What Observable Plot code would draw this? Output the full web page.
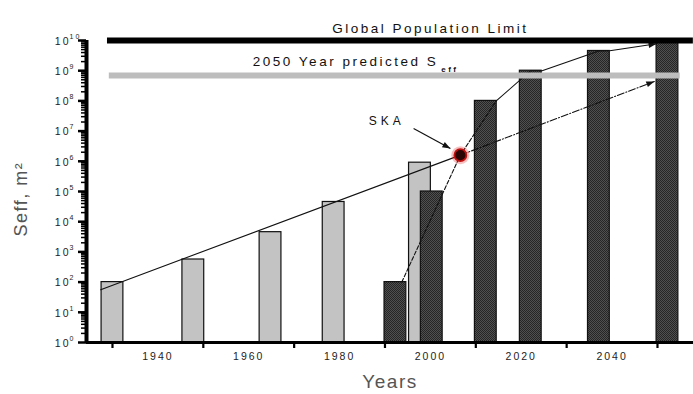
<!DOCTYPE html>
<html>
<head>
<meta charset="utf-8">
<script src="https://cdn.jsdelivr.net/npm/d3@7"></script>
<script src="https://cdn.jsdelivr.net/npm/@observablehq/plot@0.6"></script>
<style>
  body { margin: 0; background: #fff; }
  #chart svg text { letter-spacing: 2px; }
</style>
</head>
<body>
<div id="chart"></div>
<script>
// Effective collecting area Seff (m²) of radio telescopes against year, log scale.

// Existing instruments (light bars)
const pastYears = [1930, 1947.8, 1964.8, 1978.7, 1997.7];
const pastSeff  = [100, 560, 4500, 45000, 9e5];

// Arrays and the SKA era (dark bars)
const futureYears = [1992.3, 2000.3, 2012.2, 2022.1, 2037.1, 2052.2];
const futureSeff  = [100, 1e5, 1e8, 1e9, 4.5e9, 9e9];

// Long-term exponential growth line, through the SKA point and on to 2050
const growthYears = [1927.4, 2006.6, 2049.3];
const growthSeff  = [56, 1.6e6, 4.4e8];

// Accelerated growth line running over the tops of the array bars
const rapidYears = [1993.7, 2006.6, 2014.5, 2022.1, 2024.6, 2037.1, 2039.5, 2049.8];
const rapidSeff  = [100, 1.6e6, 1e8, 1e9, 1e9, 4.5e9, 4.6e9, 7.8e9];

// Horizontal limits
const limitNames = ["Global Population Limit", "2050 Year predicted S"];
const limitSeff  = [1e10, 7e8];
const limitFrom  = [1928.9, 1929.3];
const limitTo    = [2057.9, 2055.0];

// SKA marker and its callout
const skaYear = 2006.6, skaSeff = 1.6e6;
const skaLabel = {name: "SKA", year: 1990.4, seff: 2.1e7};
const skaPointer = {x1: 1996.3, y1: 1.22e7, x2: 2004.4, y2: 2.65e6};

// Axis ticks
const decades = [0, 1, 2, 3, 4, 5, 6, 7, 8, 9, 10];
const minorSteps = [2, 3, 4, 5, 6, 7, 8, 9];
const tickYears = [1930, 1950, 1970, 1990, 2010, 2030, 2050];
const labelYears = [1940, 1960, 1980, 2000, 2020, 2040];

const xDomain = [1924.28, 2057.93];
const barWidth = 4.8; // years
const ink = "#111";

const majorTicks = decades.map(d => 10 ** d);
const minorTicks = decades.slice(0, -1).flatMap(d => minorSteps.map(m => m * 10 ** d));
const pastIdx = d3.range(pastYears.length);
const futureIdx = d3.range(futureYears.length);
const limitIdx = d3.range(limitNames.length);

const pts = (xs, ys, from = 0, to = xs.length) =>
  d3.range(from, to).map(i => ({year: xs[i], seff: ys[i]}));

// Filled triangular arrow head
const arrowHead = (color) => {
  const m = d3.create("svg:marker")
    .attr("viewBox", "-9 -4 10 8")
    .attr("markerWidth", 10)
    .attr("markerHeight", 8)
    .attr("markerUnits", "userSpaceOnUse")
    .attr("orient", "auto")
    .attr("overflow", "visible");
  m.append("path").attr("d", "M-8,-3L0,0L-8,3Z").attr("fill", color).attr("stroke", "none");
  return m.node();
};

const chart = Plot.plot({
  width: 693,
  height: 394,
  marginLeft: 86,
  marginRight: 0,
  marginTop: 40,
  marginBottom: 52,
  x: {domain: xDomain},
  y: {type: "log", domain: [1, 1e10]},
  style: {fontFamily: "'Liberation Sans', Arial, sans-serif", background: "#fff", color: "#222", overflow: "visible"},
  marks: [
    // bars
    Plot.rect(pastIdx, {
      x1: i => pastYears[i] - barWidth / 2, x2: i => pastYears[i] + barWidth / 2,
      y1: () => 1, y2: i => pastSeff[i],
      fill: "#c3c3c3", stroke: ink, strokeWidth: 1.2
    }),
    Plot.rect(futureIdx, {
      x1: i => futureYears[i] - barWidth / 2, x2: i => futureYears[i] + barWidth / 2,
      y1: () => 1, y2: i => futureSeff[i],
      fill: "url(#dither)", stroke: ink, strokeWidth: 1.2
    }),

    // trend lines
    Plot.line(pts(growthYears, growthSeff, 0, 2), {x: "year", y: "seff", stroke: ink, strokeWidth: 1.1}),
    Plot.line(pts(growthYears, growthSeff, 1), {x: "year", y: "seff", stroke: ink, strokeWidth: 1.1, strokeDasharray: "7,2,1,2", markerEnd: arrowHead}),
    Plot.line(pts(rapidYears, rapidSeff, 0, 3), {x: "year", y: "seff", stroke: ink, strokeWidth: 1.1, strokeDasharray: "4,2"}),
    Plot.line(pts(rapidYears, rapidSeff, 2), {x: "year", y: "seff", stroke: ink, strokeWidth: 1.1, markerEnd: arrowHead}),

    // horizontal limits
    Plot.ruleY(limitIdx, {
      y: i => limitSeff[i], x1: i => limitFrom[i], x2: i => limitTo[i],
      stroke: i => (i === 0 ? "#000" : "#bdbdbd"), strokeWidth: 6
    }),

    // axes
    Plot.ruleY([1], {stroke: "#000", strokeWidth: 3}),
    Plot.ruleX([xDomain[0]], {y1: () => 1, y2: () => 1e10, stroke: "#000", strokeWidth: 4}),
    Plot.axisY(minorTicks, {tickSize: 5, tickFormat: () => "", strokeWidth: 1.5, stroke: "#000", label: null}),
    Plot.axisY(majorTicks, {tickSize: 8, tickFormat: () => "", strokeWidth: 2.5, stroke: "#000", label: null}),
    Plot.text(decades, {y: d => 10 ** d, text: () => "10", frameAnchor: "left", textAnchor: "end", dx: -16, dy: 1, fontSize: 10.5}),
    Plot.text(decades, {y: d => 10 ** d, text: d => String(d), frameAnchor: "left", textAnchor: "start", dx: -17, dy: -4, fontSize: 7}),
    Plot.axisX(tickYears, {tickSize: 6, tickFormat: () => "", strokeWidth: 2.2, stroke: "#000", label: null}),
    Plot.axisX(labelYears, {tickSize: 0, tickPadding: 10, tickFormat: d => String(d), fontSize: 10.5, label: null}),
    Plot.text(["Years"], {frameAnchor: "bottom", dy: 45, fontSize: 19, fill: "#555"}),
    Plot.text(["Seff, m²"], {x: () => 1909.9, y: () => 10 ** 4.75, rotate: -90, fontSize: 18, fill: "#555"}),

    // limit labels
    Plot.text([limitNames[0]], {x: () => 2000, frameAnchor: "top", dy: -17, fontSize: 13.5, fill: "#111"}),
    Plot.text([limitNames[1]], {x: () => 1960.9, y: () => limitSeff[1], dy: -13.5, textAnchor: "start", fontSize: 13.5, fill: "#111"}),

    // SKA callout
    Plot.text([skaLabel], {x: "year", y: "seff", text: "name", fontSize: 12, fill: "#111"}),
    Plot.link([skaPointer], {x1: "x1", y1: "y1", x2: "x2", y2: "y2", stroke: ink, strokeWidth: 1.2, markerEnd: arrowHead}),
    Plot.dot([0], {x: () => skaYear, y: () => skaSeff, r: 9, fill: "#e03030", fillOpacity: 0.3}),
    Plot.dot([0], {x: () => skaYear, y: () => skaSeff, r: 6, fill: "#2a0505", stroke: "#c01010", strokeWidth: 1.8})
  ]
});

// dithered fill for the array bars
const defs = d3.select(chart).insert("defs", ":first-child");
const pat = defs.append("pattern").attr("id", "dither")
  .attr("width", 2).attr("height", 2).attr("patternUnits", "userSpaceOnUse");
pat.append("rect").attr("width", 2).attr("height", 2).attr("fill", "#505050");
pat.append("rect").attr("width", 1).attr("height", 1).attr("fill", "#262626");
pat.append("rect").attr("x", 1).attr("y", 1).attr("width", 1).attr("height", 1).attr("fill", "#262626");

// per-label spacing and the subscript of Seff
d3.select(chart).selectAll("text").each(function () {
  const t = this.textContent;
  if (t === "SKA") this.style.letterSpacing = "4px";
  else if (t === limitNames[0] || t === limitNames[1]) this.style.letterSpacing = "2.5px";
  else if (t === "Years" || t.startsWith("Seff")) this.style.letterSpacing = "1.5px";
  if (t === limitNames[1]) {
    d3.select(this).append("tspan").attr("dx", 3).attr("dy", 6).attr("font-size", 8).attr("font-weight", "bold").text("eff");
  }
});

document.getElementById("chart").append(chart);
</script>
</body>
</html>
